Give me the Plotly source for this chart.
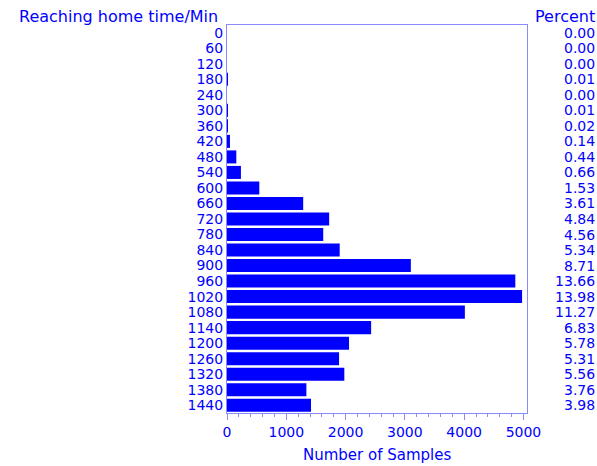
import plotly.graph_objects as go

categories = ["0", "60", "120", "180", "240", "300", "360", "420", "480", "540",
              "600", "660", "720", "780", "840", "900", "960", "1020", "1080",
              "1140", "1200", "1260", "1320", "1380", "1440"]
counts = [0, 0, 0, 4, 0, 4, 7, 50, 157, 235, 545, 1285, 1723, 1623, 1901, 3101,
          4863, 4977, 4012, 2431, 2058, 1890, 1979, 1339, 1417]
percents = ["0.00", "0.00", "0.00", "0.01", "0.00", "0.01", "0.02", "0.14", "0.44",
            "0.66", "1.53", "3.61", "4.84", "4.56", "5.34", "8.71", "13.66", "13.98",
            "11.27", "6.83", "5.78", "5.31", "5.56", "3.76", "3.98"]
x_ticks = [0, 1000, 2000, 3000, 4000, 5000]

BLUE = "#0000ff"
FRAME = "#8a8aff"
FONT = "DejaVu Sans"
TICK_SIZE = 14
TITLE_SIZE = 16

fig = go.Figure()
fig.add_trace(go.Bar(
    x=counts, y=list(range(len(categories))), orientation="h",
    marker=dict(color=BLUE, line=dict(width=0)),
    width=0.84,
))

annotations = []
for i, p in enumerate(percents):
    annotations.append(dict(x=1.232, xref="paper", y=i, yref="y", text=p,
                            showarrow=False, xanchor="right", yanchor="middle",
                            font=dict(family=FONT, size=TICK_SIZE, color=BLUE)))
annotations.append(dict(x=1.232, xref="paper", y=1.021, yref="paper", text="Percent",
                        showarrow=False, xanchor="right", yanchor="middle",
                        font=dict(family=FONT, size=TITLE_SIZE, color=BLUE)))
annotations.append(dict(x=-0.022, xref="paper", y=1.021, yref="paper",
                        text="Reaching home time/Min",
                        showarrow=False, xanchor="right", yanchor="middle",
                        font=dict(family=FONT, size=TITLE_SIZE, color=BLUE)))
annotations.append(dict(x=0.5, xref="paper", y=-0.108, yref="paper",
                        text="Number of Samples",
                        showarrow=False, xanchor="center", yanchor="middle",
                        font=dict(family=FONT, size=15, color=BLUE)))

fig.update_layout(
    width=597, height=466,
    margin=dict(l=227, r=70, t=25, b=53),
    paper_bgcolor="white", plot_bgcolor="white",
    showlegend=False,
    font=dict(family=FONT, size=TICK_SIZE, color=BLUE),
    annotations=annotations,
)
fig.update_xaxes(
    range=[0, 5060], tickvals=x_ticks, ticktext=[str(v) for v in x_ticks],
    showgrid=False, zeroline=False,
    showline=True, mirror=True, linecolor=FRAME, linewidth=1,
    ticks="outside", ticklen=6, tickcolor=FRAME, tickwidth=1,
    minor=dict(tickvals=[v for v in range(0, 5001, 200)], ticks="outside",
               ticklen=3, tickcolor=FRAME, tickwidth=1),
    tickfont=dict(family=FONT, size=TICK_SIZE, color=BLUE),
)
fig.update_yaxes(
    type="linear", autorange=False, range=[len(categories) - 0.5, -0.5],
    tickvals=list(range(len(categories))), ticktext=categories,
    showgrid=False, zeroline=False,
    showline=True, mirror=True, linecolor=FRAME, linewidth=1,
    ticks="", tickfont=dict(family=FONT, size=TICK_SIZE, color=BLUE),
)

fig.write_html("out.html", config={"displayModeBar": False},
               post_script="document.body.style.margin='0';document.body.style.overflow='hidden';")
